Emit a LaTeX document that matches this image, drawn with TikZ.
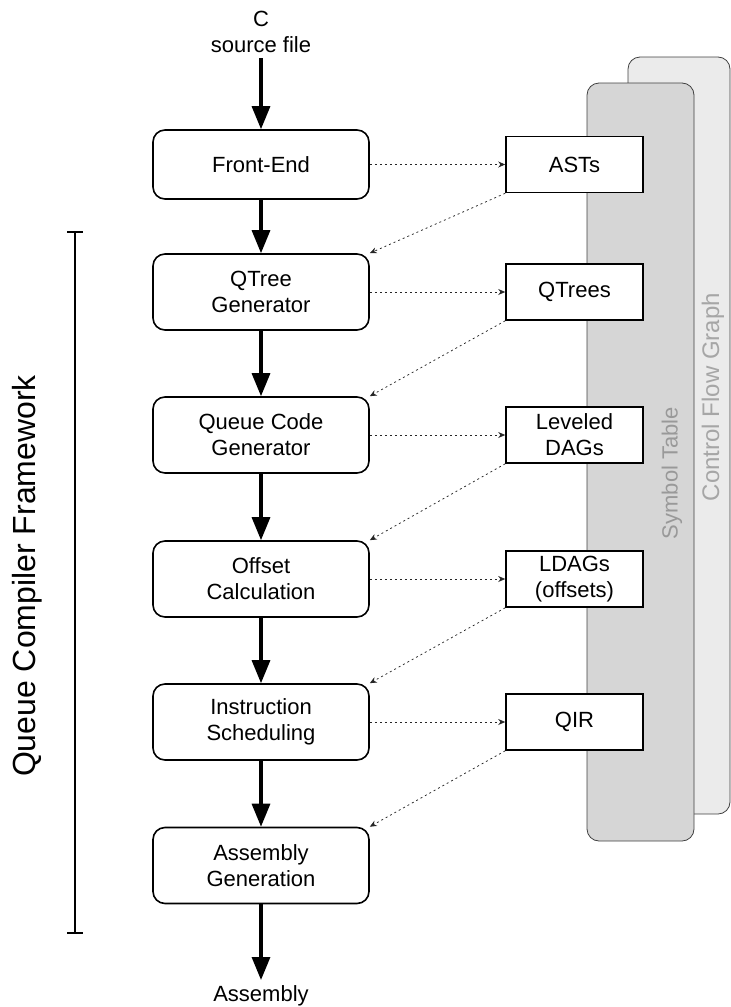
\documentclass[tikz,border=0pt]{standalone}
\usepackage{fontspec}
\setmainfont{Liberation Sans}
\usetikzlibrary{arrows.meta,calc}
\begin{document}
\begin{tikzpicture}[x=1pt,y=-1pt,
  every node/.style={font=\fontsize{22}{26}\selectfont},
  stage/.style={draw, line width=1.6pt, rounded corners=12pt, minimum width=216pt,
    minimum height=76pt, align=center, inner sep=0pt, fill=white},
  data/.style={draw, line width=1.6pt, minimum width=137pt, minimum height=56pt,
    align=center, inner sep=0pt, fill=white},
  flow/.style={line width=3.2pt, -{Triangle[length=23pt,width=18pt]}},
  link/.style={draw=black!85, line width=0.75pt, dash pattern=on 2pt off 3pt,
    -{Stealth[length=7pt,width=6pt]}},
  store/.style={draw=black!75, line width=0.8pt, rounded corners=12pt},
  storelabel/.style={rotate=90, inner sep=0pt}
]
\useasboundingbox (0,0) rectangle (731,1007);

% shared tables behind the data boxes
\draw[store, fill=black!8] (628,57) rectangle (730,814);
\draw[store, fill=black!16] (587,83) rectangle (694,841);
\node[storelabel, text=black!35, font=\fontsize{24}{28}\selectfont] (cfg) at (713,397) {Control Flow Graph};
\node[storelabel, text=black!40] (sym) at (672,473) {Symbol Table};

% compiler stages
\node[stage, minimum height=69pt] (fe) at (261,164.5) {Front-End};
\node[stage] (qt)  at (261,292)   {QTree\\Generator};
\node[stage] (qcg) at (261,435)   {Queue Code\\Generator};
\node[stage] (oc)  at (261,579)   {Offset\\Calculation};
\node[stage] (is)  at (261,722)   {Instruction\\Scheduling};
\node[stage] (ag)  at (261,865.5) {Assembly\\Generation};

% intermediate representations
\node[data] (ast)  at (574.5,164.5) {ASTs};
\node[data] (qtr)  at (574.5,292)   {QTrees};
\node[data] (ldag) at (574.5,435)   {Leveled\\DAGs};
\node[data] (ldo)  at (574.5,579)   {LDAGs\\(offsets)};
\node[data] (qir)  at (574.5,722)   {QIR};

% input and output
\node[anchor=south, inner sep=0pt, align=center] (src) at (261,53) {C\\source file};
\node[anchor=north, inner sep=0pt] (asm) at (261,985) {Assembly};

% main flow
\draw[flow, shorten <=5pt] (src) -- (fe);
\draw[flow] (fe) -- (qt);
\draw[flow] (qt) -- (qcg);
\draw[flow] (qcg) -- (oc);
\draw[flow] (oc) -- (is);
\draw[flow] (is) -- (ag);
\draw[flow, shorten >=5pt] (ag) -- (asm);

% produced representations
\draw[link] (fe) -- (ast);
\draw[link] (qt) -- (qtr);
\draw[link] (qcg) -- (ldag);
\draw[link] (oc) -- (ldo);
\draw[link] (is) -- (qir);

% consumed representations
\draw[link] (ast.south west) -- (qt.north east);
\draw[link] (qtr.south west) -- (qcg.north east);
\draw[link] (ldag.south west) -- (oc.north east);
\draw[link] (ldo.south west) -- (is.north east);
\draw[link] (qir.south west) -- (ag.north east);

% framework bracket
\coordinate (bt) at (75,232);
\coordinate (bb) at (75,933);
\draw[line width=1.6pt] (bt) -- (bb);
\draw[line width=1.6pt] ([xshift=-8pt]bt) -- ([xshift=8pt]bt);
\draw[line width=1.6pt] ([xshift=-8pt]bb) -- ([xshift=8pt]bb);
\node[rotate=90, inner sep=0pt, font=\fontsize{32}{38}\selectfont] (qcf) at (27,576) {Queue Compiler Framework};
\end{tikzpicture}
\end{document}
